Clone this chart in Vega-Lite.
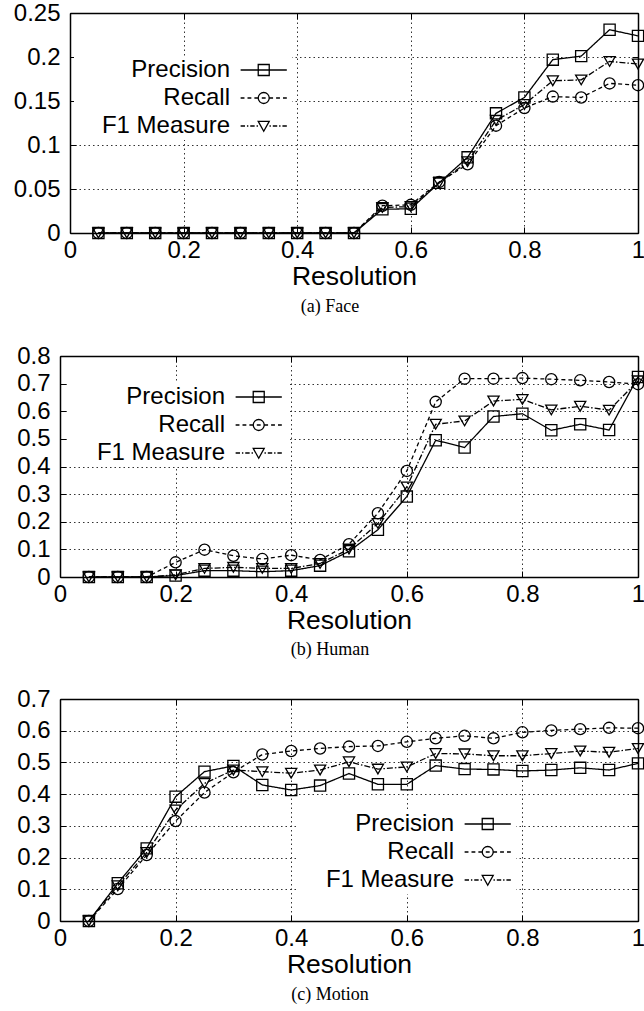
{
  "$schema": "https://vega.github.io/schema/vega-lite/v6.json",
  "padding": {"left": 13, "top": 1, "right": 0, "bottom": 0},
  "background": "white",
  "config": {
    "view": {"stroke": null},
    "axis": {
      "labelFont": "Liberation Sans", "labelFontSize": 24, "labelColor": "black",
      "titleFont": "Liberation Sans", "titleFontSize": 26.5, "titleFontWeight": "normal", "titleColor": "black",
      "domainColor": "black", "domainWidth": 1.5, "ticks": true, "tickSize": -6, "tickColor": "black", "tickWidth": 1,
      "gridColor": "#333333", "gridDash": [1.5, 3], "gridWidth": 1, "gridOpacity": 1,
      "labelFlush": false, "labelOverlap": false
    },
    "axisX": {"labelPadding": 11, "titlePadding": 1},
    "axisY": {"labelPadding": 16},
    "legend": {
      "labelFont": "Liberation Sans", "labelFontSize": 24, "labelColor": "black",
      "labelAlign": "right", "labelOffset": 130, "labelLimit": 400,
      "symbolSize": 121, "symbolStrokeWidth": 1.3, "symbolStrokeColor": "black",
      "symbolFillColor": "transparent", "symbolOpacity": 1,
      "rowPadding": 4, "padding": 2, "fillColor": "white", "strokeColor": null
    },
    "title": {"font": "Liberation Serif", "fontSize": 18, "fontWeight": "normal", "color": "black", "orient": "bottom", "anchor": "middle", "offset": 8}
  },
  "datasets": {
    "face": [
      {"resolution":0.05,"series":"Precision","value":0},{"resolution":0.05,"series":"Recall","value":0},{"resolution":0.05,"series":"F1 Measure","value":0},
      {"resolution":0.10,"series":"Precision","value":0},{"resolution":0.10,"series":"Recall","value":0},{"resolution":0.10,"series":"F1 Measure","value":0},
      {"resolution":0.15,"series":"Precision","value":0},{"resolution":0.15,"series":"Recall","value":0},{"resolution":0.15,"series":"F1 Measure","value":0},
      {"resolution":0.20,"series":"Precision","value":0},{"resolution":0.20,"series":"Recall","value":0},{"resolution":0.20,"series":"F1 Measure","value":0},
      {"resolution":0.25,"series":"Precision","value":0},{"resolution":0.25,"series":"Recall","value":0},{"resolution":0.25,"series":"F1 Measure","value":0},
      {"resolution":0.30,"series":"Precision","value":0},{"resolution":0.30,"series":"Recall","value":0},{"resolution":0.30,"series":"F1 Measure","value":0},
      {"resolution":0.35,"series":"Precision","value":0},{"resolution":0.35,"series":"Recall","value":0},{"resolution":0.35,"series":"F1 Measure","value":0},
      {"resolution":0.40,"series":"Precision","value":0},{"resolution":0.40,"series":"Recall","value":0},{"resolution":0.40,"series":"F1 Measure","value":0},
      {"resolution":0.45,"series":"Precision","value":0},{"resolution":0.45,"series":"Recall","value":0},{"resolution":0.45,"series":"F1 Measure","value":0},
      {"resolution":0.50,"series":"Precision","value":0},{"resolution":0.50,"series":"Recall","value":0},{"resolution":0.50,"series":"F1 Measure","value":0},
      {"resolution":0.55,"series":"Precision","value":0.027},{"resolution":0.55,"series":"Recall","value":0.031},{"resolution":0.55,"series":"F1 Measure","value":0.029},
      {"resolution":0.60,"series":"Precision","value":0.0275},{"resolution":0.60,"series":"Recall","value":0.032},{"resolution":0.60,"series":"F1 Measure","value":0.030},
      {"resolution":0.65,"series":"Precision","value":0.057},{"resolution":0.65,"series":"Recall","value":0.058},{"resolution":0.65,"series":"F1 Measure","value":0.057},
      {"resolution":0.70,"series":"Precision","value":0.086},{"resolution":0.70,"series":"Recall","value":0.078},{"resolution":0.70,"series":"F1 Measure","value":0.081},
      {"resolution":0.75,"series":"Precision","value":0.136},{"resolution":0.75,"series":"Recall","value":0.122},{"resolution":0.75,"series":"F1 Measure","value":0.128},
      {"resolution":0.80,"series":"Precision","value":0.154},{"resolution":0.80,"series":"Recall","value":0.142},{"resolution":0.80,"series":"F1 Measure","value":0.146},
      {"resolution":0.85,"series":"Precision","value":0.197},{"resolution":0.85,"series":"Recall","value":0.155},{"resolution":0.85,"series":"F1 Measure","value":0.173},
      {"resolution":0.90,"series":"Precision","value":0.201},{"resolution":0.90,"series":"Recall","value":0.154},{"resolution":0.90,"series":"F1 Measure","value":0.174},
      {"resolution":0.95,"series":"Precision","value":0.231},{"resolution":0.95,"series":"Recall","value":0.170},{"resolution":0.95,"series":"F1 Measure","value":0.195},
      {"resolution":1.00,"series":"Precision","value":0.224},{"resolution":1.00,"series":"Recall","value":0.168},{"resolution":1.00,"series":"F1 Measure","value":0.192}
    ],
    "human": [
      {"resolution":0.05,"series":"Precision","value":0},{"resolution":0.05,"series":"Recall","value":0},{"resolution":0.05,"series":"F1 Measure","value":0},
      {"resolution":0.10,"series":"Precision","value":0},{"resolution":0.10,"series":"Recall","value":0},{"resolution":0.10,"series":"F1 Measure","value":0},
      {"resolution":0.15,"series":"Precision","value":0},{"resolution":0.15,"series":"Recall","value":0},{"resolution":0.15,"series":"F1 Measure","value":0},
      {"resolution":0.20,"series":"Precision","value":0.005},{"resolution":0.20,"series":"Recall","value":0.053},{"resolution":0.20,"series":"F1 Measure","value":0.008},
      {"resolution":0.25,"series":"Precision","value":0.023},{"resolution":0.25,"series":"Recall","value":0.099},{"resolution":0.25,"series":"F1 Measure","value":0.031},
      {"resolution":0.30,"series":"Precision","value":0.023},{"resolution":0.30,"series":"Recall","value":0.077},{"resolution":0.30,"series":"F1 Measure","value":0.035},
      {"resolution":0.35,"series":"Precision","value":0.019},{"resolution":0.35,"series":"Recall","value":0.065},{"resolution":0.35,"series":"F1 Measure","value":0.031},
      {"resolution":0.40,"series":"Precision","value":0.023},{"resolution":0.40,"series":"Recall","value":0.079},{"resolution":0.40,"series":"F1 Measure","value":0.031},
      {"resolution":0.45,"series":"Precision","value":0.041},{"resolution":0.45,"series":"Recall","value":0.062},{"resolution":0.45,"series":"F1 Measure","value":0.049},
      {"resolution":0.50,"series":"Precision","value":0.093},{"resolution":0.50,"series":"Recall","value":0.119},{"resolution":0.50,"series":"F1 Measure","value":0.101},
      {"resolution":0.55,"series":"Precision","value":0.171},{"resolution":0.55,"series":"Recall","value":0.231},{"resolution":0.55,"series":"F1 Measure","value":0.194},
      {"resolution":0.60,"series":"Precision","value":0.291},{"resolution":0.60,"series":"Recall","value":0.384},{"resolution":0.60,"series":"F1 Measure","value":0.326},
      {"resolution":0.65,"series":"Precision","value":0.495},{"resolution":0.65,"series":"Recall","value":0.634},{"resolution":0.65,"series":"F1 Measure","value":0.553},
      {"resolution":0.70,"series":"Precision","value":0.469},{"resolution":0.70,"series":"Recall","value":0.718},{"resolution":0.70,"series":"F1 Measure","value":0.565},
      {"resolution":0.75,"series":"Precision","value":0.581},{"resolution":0.75,"series":"Recall","value":0.718},{"resolution":0.75,"series":"F1 Measure","value":0.637},
      {"resolution":0.80,"series":"Precision","value":0.591},{"resolution":0.80,"series":"Recall","value":0.720},{"resolution":0.80,"series":"F1 Measure","value":0.643},
      {"resolution":0.85,"series":"Precision","value":0.531},{"resolution":0.85,"series":"Recall","value":0.716},{"resolution":0.85,"series":"F1 Measure","value":0.605},
      {"resolution":0.90,"series":"Precision","value":0.553},{"resolution":0.90,"series":"Recall","value":0.712},{"resolution":0.90,"series":"F1 Measure","value":0.618},
      {"resolution":0.95,"series":"Precision","value":0.532},{"resolution":0.95,"series":"Recall","value":0.706},{"resolution":0.95,"series":"F1 Measure","value":0.604},
      {"resolution":1.00,"series":"Precision","value":0.724},{"resolution":1.00,"series":"Recall","value":0.698},{"resolution":1.00,"series":"F1 Measure","value":0.710}
    ],
    "motion": [
      {"resolution":0.05,"series":"Precision","value":0},{"resolution":0.05,"series":"Recall","value":0},{"resolution":0.05,"series":"F1 Measure","value":0},
      {"resolution":0.10,"series":"Precision","value":0.119},{"resolution":0.10,"series":"Recall","value":0.101},{"resolution":0.10,"series":"F1 Measure","value":0.111},
      {"resolution":0.15,"series":"Precision","value":0.229},{"resolution":0.15,"series":"Recall","value":0.208},{"resolution":0.15,"series":"F1 Measure","value":0.216},
      {"resolution":0.20,"series":"Precision","value":0.392},{"resolution":0.20,"series":"Recall","value":0.315},{"resolution":0.20,"series":"F1 Measure","value":0.350},
      {"resolution":0.25,"series":"Precision","value":0.471},{"resolution":0.25,"series":"Recall","value":0.405},{"resolution":0.25,"series":"F1 Measure","value":0.434},
      {"resolution":0.30,"series":"Precision","value":0.489},{"resolution":0.30,"series":"Recall","value":0.469},{"resolution":0.30,"series":"F1 Measure","value":0.476},
      {"resolution":0.35,"series":"Precision","value":0.429},{"resolution":0.35,"series":"Recall","value":0.525},{"resolution":0.35,"series":"F1 Measure","value":0.471},
      {"resolution":0.40,"series":"Precision","value":0.413},{"resolution":0.40,"series":"Recall","value":0.536},{"resolution":0.40,"series":"F1 Measure","value":0.466},
      {"resolution":0.45,"series":"Precision","value":0.427},{"resolution":0.45,"series":"Recall","value":0.544},{"resolution":0.45,"series":"F1 Measure","value":0.476},
      {"resolution":0.50,"series":"Precision","value":0.465},{"resolution":0.50,"series":"Recall","value":0.550},{"resolution":0.50,"series":"F1 Measure","value":0.502},
      {"resolution":0.55,"series":"Precision","value":0.431},{"resolution":0.55,"series":"Recall","value":0.552},{"resolution":0.55,"series":"F1 Measure","value":0.479},
      {"resolution":0.60,"series":"Precision","value":0.431},{"resolution":0.60,"series":"Recall","value":0.565},{"resolution":0.60,"series":"F1 Measure","value":0.486},
      {"resolution":0.65,"series":"Precision","value":0.490},{"resolution":0.65,"series":"Recall","value":0.576},{"resolution":0.65,"series":"F1 Measure","value":0.528},
      {"resolution":0.70,"series":"Precision","value":0.479},{"resolution":0.70,"series":"Recall","value":0.584},{"resolution":0.70,"series":"F1 Measure","value":0.527},
      {"resolution":0.75,"series":"Precision","value":0.478},{"resolution":0.75,"series":"Recall","value":0.576},{"resolution":0.75,"series":"F1 Measure","value":0.521},
      {"resolution":0.80,"series":"Precision","value":0.473},{"resolution":0.80,"series":"Recall","value":0.595},{"resolution":0.80,"series":"F1 Measure","value":0.521},
      {"resolution":0.85,"series":"Precision","value":0.476},{"resolution":0.85,"series":"Recall","value":0.601},{"resolution":0.85,"series":"F1 Measure","value":0.528},
      {"resolution":0.90,"series":"Precision","value":0.483},{"resolution":0.90,"series":"Recall","value":0.605},{"resolution":0.90,"series":"F1 Measure","value":0.536},
      {"resolution":0.95,"series":"Precision","value":0.476},{"resolution":0.95,"series":"Recall","value":0.609},{"resolution":0.95,"series":"F1 Measure","value":0.532},
      {"resolution":1.00,"series":"Precision","value":0.497},{"resolution":1.00,"series":"Recall","value":0.608},{"resolution":1.00,"series":"F1 Measure","value":0.544}
    ]
  },
  "spacing": 28,
  "vconcat": [
    {
      "width": 578, "height": 220,
      "data": {"name": "face"},
      "title": {"text": "(a)  Face", "dx": -19},
      "layer": [
        {"mark": {"type": "line", "color": "black", "strokeWidth": 1.3},
         "encoding": {
           "x": {"field": "resolution", "type": "quantitative", "title": "Resolution", "scale": {"domain": [0, 1], "range": [10, 578]}, "axis": {"values": [0, 0.2, 0.4, 0.6, 0.8, 1], "format": "~g"}},
           "y": {"field": "value", "type": "quantitative", "title": null, "scale": {"domain": [0, 0.25]}, "axis": {"values": [0, 0.05, 0.1, 0.15, 0.2, 0.25], "format": "~g", "offset": -10}},
           "strokeDash": {"field": "series", "type": "nominal", "scale": {"domain": ["Precision", "Recall", "F1 Measure"], "range": [[1, 0], [4, 3], [6, 2, 1.5, 2]]}, "legend": null}}},
        {"mark": {"type": "point", "filled": false, "color": "black", "size": 125, "strokeWidth": 1.3, "opacity": 1},
         "encoding": {
           "x": {"field": "resolution", "type": "quantitative", "scale": {"domain": [0, 1], "range": [10, 578]}, "axis": {"orient": "top", "labels": false, "grid": false, "title": null, "values": [0, 0.2, 0.4, 0.6, 0.8, 1]}},
           "y": {"field": "value", "type": "quantitative", "scale": {"domain": [0, 0.25]}, "axis": {"orient": "right", "labels": false, "grid": false, "title": null, "values": [0, 0.05, 0.1, 0.15, 0.2, 0.25]}},
           "shape": {"field": "series", "type": "nominal", "scale": {"domain": ["Precision", "Recall", "F1 Measure"], "range": ["square", "circle", "triangle-down"]}, "legend": null}}},
        {"mark": {"type": "point", "filled": false, "color": "black", "opacity": 0},
         "encoding": {
           "x": {"field": "resolution", "type": "quantitative", "scale": {"domain": [0, 1], "range": [10, 578]}, "axis": null},
           "y": {"field": "value", "type": "quantitative", "scale": {"domain": [0, 0.25]}, "axis": null},
           "shape": {"field": "series", "type": "nominal", "title": null,
           "scale": {"domain": ["Precision", "Recall", "F1 Measure"], "range": [
             "M27.75,0H36.15M30.95,-1H32.95V1H30.95Z",
             "M27.75,0H28.45M29,0H29.7M30.25,0H30.95M31.6,0H32.3M32.95,0H33.65M34.2,0H34.9M35.45,0H36.15M30.95,0A1,1 0 1,0 32.95,0A1,1 0 1,0 30.95,0",
             "M27.75,0H28.55M28.9,0H29.15M29.5,0H30.3M30.65,0H30.9M33,0H33.25M33.6,0H34.4M34.75,0H35M35.35,0H36.15M30.95,-0.85H32.95L31.95,0.95Z"
           ]},
           "legend": {"orient": "none", "legendX": 14, "legendY": 43}}}}
      ],
      "resolve": {"scale": {"shape": "independent"}, "axis": {"x": "independent", "y": "independent"}}
    },
    {
      "width": 578, "height": 221,
      "data": {"name": "human"},
      "title": {"text": "(b)  Human", "dx": -19, "offset": 7},
      "layer": [
        {"mark": {"type": "line", "color": "black", "strokeWidth": 1.3},
         "encoding": {
           "x": {"field": "resolution", "type": "quantitative", "title": "Resolution", "scale": {"domain": [0, 1]}, "axis": {"values": [0, 0.2, 0.4, 0.6, 0.8, 1], "format": "~g"}},
           "y": {"field": "value", "type": "quantitative", "title": null, "scale": {"domain": [0, 0.8]}, "axis": {"values": [0, 0.1, 0.2, 0.3, 0.4, 0.5, 0.6, 0.7, 0.8], "format": "~g", "minExtent": 47}},
           "strokeDash": {"field": "series", "type": "nominal", "scale": {"domain": ["Precision", "Recall", "F1 Measure"], "range": [[1, 0], [4, 3], [6, 2, 1.5, 2]]}, "legend": null}}},
        {"mark": {"type": "point", "filled": false, "color": "black", "size": 125, "strokeWidth": 1.3, "opacity": 1},
         "encoding": {
           "x": {"field": "resolution", "type": "quantitative", "scale": {"domain": [0, 1]}, "axis": {"orient": "top", "labels": false, "grid": false, "title": null, "values": [0, 0.2, 0.4, 0.6, 0.8, 1]}},
           "y": {"field": "value", "type": "quantitative", "scale": {"domain": [0, 0.8]}, "axis": {"orient": "right", "labels": false, "grid": false, "title": null, "values": [0, 0.1, 0.2, 0.3, 0.4, 0.5, 0.6, 0.7, 0.8]}},
           "shape": {"field": "series", "type": "nominal", "scale": {"domain": ["Precision", "Recall", "F1 Measure"], "range": ["square", "circle", "triangle-down"]}, "legend": null}}},
        {"mark": {"type": "point", "filled": false, "color": "black", "opacity": 0},
         "encoding": {
           "x": {"field": "resolution", "type": "quantitative", "scale": {"domain": [0, 1]}, "axis": null},
           "y": {"field": "value", "type": "quantitative", "scale": {"domain": [0, 0.8]}, "axis": null},
           "shape": {"field": "series", "type": "nominal", "title": null,
           "scale": {"domain": ["Precision", "Recall", "F1 Measure"], "range": [
             "M27.75,0H36.15M30.95,-1H32.95V1H30.95Z",
             "M27.75,0H28.45M29,0H29.7M30.25,0H30.95M31.6,0H32.3M32.95,0H33.65M34.2,0H34.9M35.45,0H36.15M30.95,0A1,1 0 1,0 32.95,0A1,1 0 1,0 30.95,0",
             "M27.75,0H28.55M28.9,0H29.15M29.5,0H30.3M30.65,0H30.9M33,0H33.25M33.6,0H34.4M34.75,0H35M35.35,0H36.15M30.95,-0.85H32.95L31.95,0.95Z"
           ]},
           "legend": {"orient": "none", "legendX": 9, "legendY": 27}}}}
      ],
      "resolve": {"scale": {"shape": "independent"}, "axis": {"x": "independent", "y": "independent"}}
    },
    {
      "width": 578, "height": 222,
      "data": {"name": "motion"},
      "title": {"text": "(c)  Motion", "dx": -19},
      "layer": [
        {"mark": {"type": "line", "color": "black", "strokeWidth": 1.3},
         "encoding": {
           "x": {"field": "resolution", "type": "quantitative", "title": "Resolution", "scale": {"domain": [0, 1]}, "axis": {"values": [0, 0.2, 0.4, 0.6, 0.8, 1], "format": "~g"}},
           "y": {"field": "value", "type": "quantitative", "title": null, "scale": {"domain": [0, 0.7]}, "axis": {"values": [0, 0.1, 0.2, 0.3, 0.4, 0.5, 0.6, 0.7], "format": "~g", "minExtent": 47}},
           "strokeDash": {"field": "series", "type": "nominal", "scale": {"domain": ["Precision", "Recall", "F1 Measure"], "range": [[1, 0], [4, 3], [6, 2, 1.5, 2]]}, "legend": null}}},
        {"mark": {"type": "point", "filled": false, "color": "black", "size": 125, "strokeWidth": 1.3, "opacity": 1},
         "encoding": {
           "x": {"field": "resolution", "type": "quantitative", "scale": {"domain": [0, 1]}, "axis": {"orient": "top", "labels": false, "grid": false, "title": null, "values": [0, 0.2, 0.4, 0.6, 0.8, 1]}},
           "y": {"field": "value", "type": "quantitative", "scale": {"domain": [0, 0.7]}, "axis": {"orient": "right", "labels": false, "grid": false, "title": null, "values": [0, 0.1, 0.2, 0.3, 0.4, 0.5, 0.6, 0.7]}},
           "shape": {"field": "series", "type": "nominal", "scale": {"domain": ["Precision", "Recall", "F1 Measure"], "range": ["square", "circle", "triangle-down"]}, "legend": null}}},
        {"mark": {"type": "point", "filled": false, "color": "black", "opacity": 0},
         "encoding": {
           "x": {"field": "resolution", "type": "quantitative", "scale": {"domain": [0, 1]}, "axis": null},
           "y": {"field": "value", "type": "quantitative", "scale": {"domain": [0, 0.7]}, "axis": null},
           "shape": {"field": "series", "type": "nominal", "title": null,
           "scale": {"domain": ["Precision", "Recall", "F1 Measure"], "range": [
             "M27.75,0H36.15M30.95,-1H32.95V1H30.95Z",
             "M27.75,0H28.45M29,0H29.7M30.25,0H30.95M31.6,0H32.3M32.95,0H33.65M34.2,0H34.9M35.45,0H36.15M30.95,0A1,1 0 1,0 32.95,0A1,1 0 1,0 30.95,0",
             "M27.75,0H28.55M28.9,0H29.15M29.5,0H30.3M30.65,0H30.9M33,0H33.25M33.6,0H34.4M34.75,0H35M35.35,0H36.15M30.95,-0.85H32.95L31.95,0.95Z"
           ]},
           "legend": {"orient": "none", "legendX": 238, "legendY": 111}}}}
      ],
      "resolve": {"scale": {"shape": "independent"}, "axis": {"x": "independent", "y": "independent"}}
    }
  ]
}
